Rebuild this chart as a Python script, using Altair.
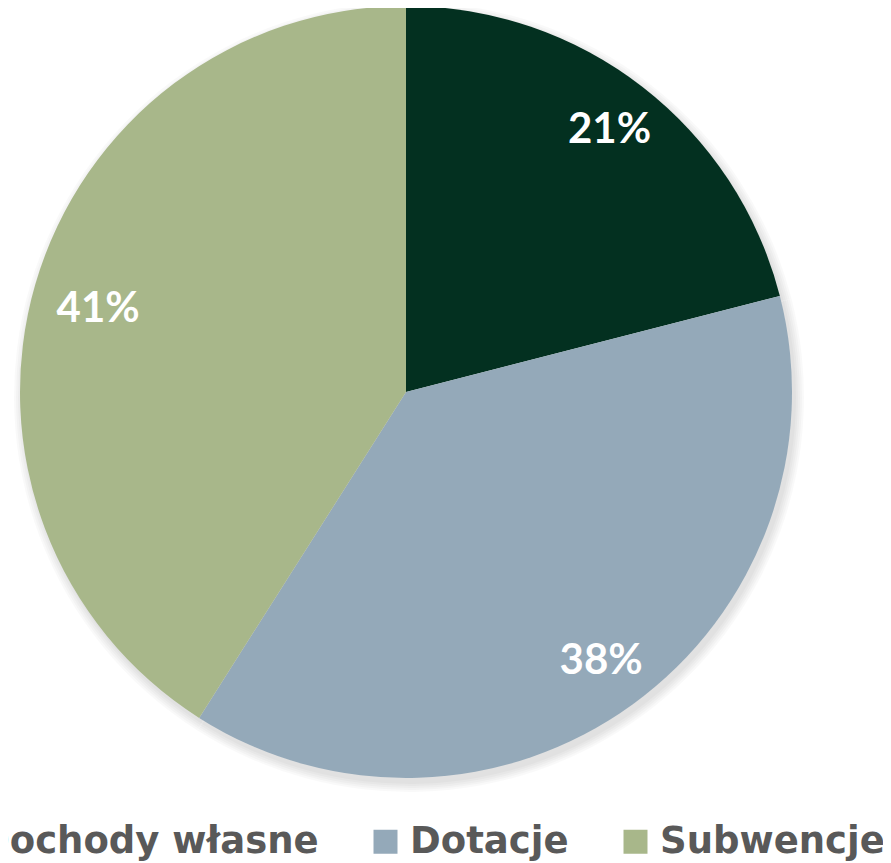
import altair as alt
import pandas as pd

categories = ["Dochody własne", "Dotacje", "Subwencje"]
shares = [21, 38, 41]
labels = ["21%", "38%", "41%"]
colors = ["#033020", "#94A9B9", "#A8B78A"]

df = pd.DataFrame({"kat": categories, "v": shares, "lab": labels, "ord": [0, 1, 2]})

CX, CY, R = 398, 384, 386

base = alt.Chart(df).encode(
    theta=alt.Theta("v:Q", stack=True),
    order=alt.Order("ord:Q"),
)

shadows = [
    base.mark_arc(radius=R + k, color="#000000", opacity=0.025, stroke=None).encode(
        x=alt.value(CX + 3), y=alt.value(CY + 5)
    )
    for k in range(1, 10, 2)
]

pie = base.mark_arc(radius=R, stroke=None).encode(
    x=alt.value(CX),
    y=alt.value(CY),
    color=alt.Color(
        "kat:N",
        scale=alt.Scale(domain=categories, range=colors),
        sort=categories,
        legend=alt.Legend(
            title=None,
            orient="none",
            direction="horizontal",
            legendX=-72,
            legendY=815,
            padding=0,
            symbolType="square",
            symbolSize=576,
            symbolStrokeWidth=0,
            labelFont="DejaVu Sans",
            labelFontWeight="bold",
            labelFontSize=37,
            labelColor="#595959",
            labelLimit=600,
            labelOffset=6,
            columnPadding=48,
        ),
    ),
)

txt_style = dict(radius=332, font="Lato", fontWeight="bold", fontSize=42,
                 color="white", align="center", baseline="middle")

text_main = base.mark_text(**txt_style).encode(
    x=alt.value(CX), y=alt.value(CY), text="lab:N",
    opacity=alt.condition(alt.datum.ord < 2, alt.value(1), alt.value(0)),
)
text_41 = base.mark_text(dy=10, dx=11, **txt_style).encode(
    x=alt.value(CX), y=alt.value(CY), text="lab:N",
    opacity=alt.condition(alt.datum.ord == 2, alt.value(1), alt.value(0)),
)

chart = alt.layer(*shadows, pie, text_main, text_41).properties(
    width=875, height=855, padding=0, autosize=alt.AutoSizeParams(type="none")
).configure_view(stroke=None)

chart.save("out.html", embed_options={"renderer": "svg", "actions": False})
